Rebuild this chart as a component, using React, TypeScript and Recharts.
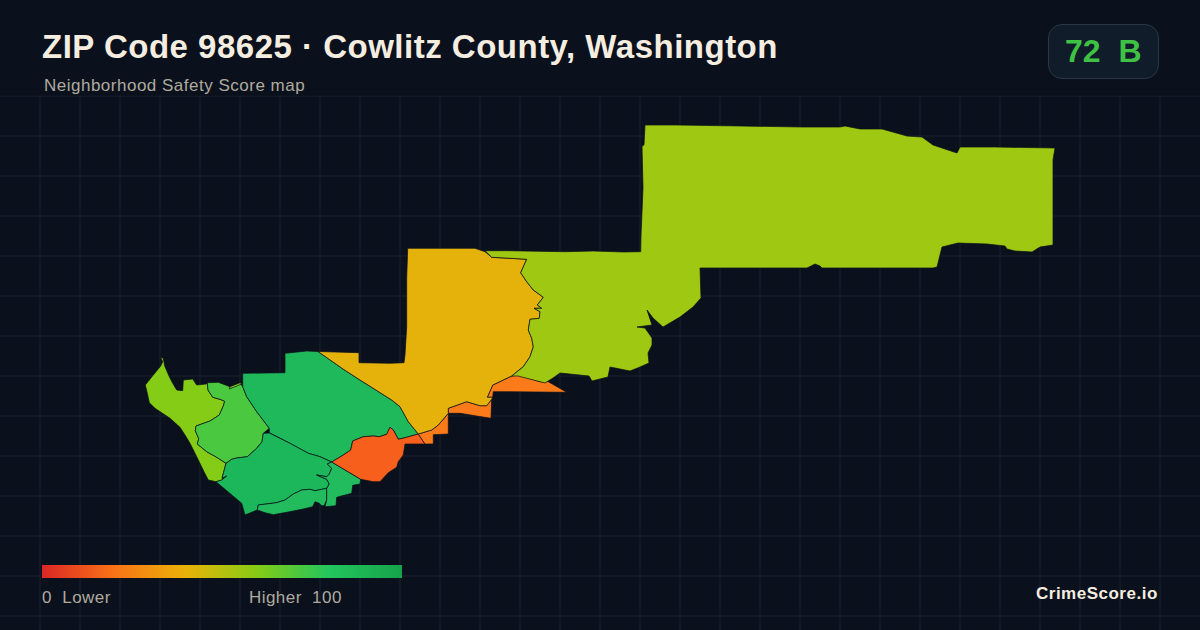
import React from "react";
import { ScatterChart, Scatter, XAxis, YAxis, CartesianGrid, ReferenceArea } from "recharts";

type P = [number, number];

const gridXValues = [0,40,80,120,160,200,240,280,320,360,400,440,480,520,560,600,640,680,720,760,800,840,880,920,960,1000,1040,1080,1120,1160];
const gridYValues = [96,136,176,216,256,296,336,376,416,456,496,536,576,616];

const limeWest: P[] = [[160.7,357.3],[163.3,358.3],[164.7,366],[169.3,376.7],[172.7,383.3],[176.7,390],[182.7,390.7],[183.3,380],[192.7,379],[196.7,385],[206,384],[207.3,383.3],[208,390],[212.7,397.3],[220,399.3],[224.7,401.3],[223.3,406],[219.3,415],[210,421],[196,426],[195.3,430.7],[198.7,438.7],[197.3,444],[206.7,451.7],[216.7,457.3],[226,463.3],[222,478.3],[226.7,476],[221.7,480],[216,481.7],[208.3,480],[204,471.7],[196.7,456.7],[190,443.3],[185,435],[180,427.3],[170,418.3],[155,408.3],[149.3,402.7],[147.3,393.3],[145.3,385],[153.3,375],[160.7,366],[162.7,361.7]];
const limeSliver: P[] = [[229.3,389],[241.7,384],[240,382.7],[230,386.7]];
const lightGreen: P[] = [[207.3,382.7],[218.3,382.3],[230,386.7],[240,383.3],[242.7,386.7],[246.7,396.7],[256.7,411.7],[269.3,428.3],[263.3,433.3],[262,441.7],[256.7,448.3],[247.3,456.7],[236.7,458],[231.7,459.3],[226,463.3],[216.7,457.3],[206.7,451.7],[197.3,444],[198.7,438.7],[195.3,430.7],[196,426],[210,421],[219.3,415],[223.3,406],[224.7,401.3],[220,399.3],[212.7,397.3],[208,390]];
const greenNorth: P[] = [[242.7,373.3],[285,372.7],[285,353.3],[306.7,351],[318,351.5],[343,369],[360,380],[391.7,400],[400,406.7],[408.3,421.7],[418.3,434],[406.7,437.3],[398.3,439.3],[393.3,430],[390,427.3],[386.7,434.3],[379.3,436.7],[373.3,436],[363.3,436.7],[352.7,441],[350.7,450],[343.3,455],[331.7,462],[320,456.7],[308.3,453.3],[290,443.3],[269.3,432.7],[269.3,428.3],[256.7,411.7],[246.7,396.7],[242.7,386.7]];
const greenSouth: P[] = [[263.3,433.3],[269.3,433],[290,443.3],[308.3,453.3],[320,456.7],[331.7,462],[327.3,464],[331.7,468.3],[329.3,474],[326.7,476.7],[316.7,475],[326.7,479.3],[329.3,484],[326.7,488.3],[315,490.7],[310,489.3],[301.7,490],[293.3,494],[285,500],[276.7,502.7],[258.3,505],[257.3,510],[245,515],[241.7,503.3],[216,481.7],[221.7,480],[226.7,476],[222,478.3],[226,463.3],[231.7,459.3],[236.7,458],[247.3,456.7],[256.7,448.3],[262,441.7]];
const greenTip: P[] = [[258.3,505],[276.7,502.7],[285,500],[293.3,494],[301.7,490],[310,489.3],[315,490.7],[326.7,488.3],[326.7,500],[324,505.7],[321.7,505.7],[319.3,503.3],[315,501.7],[312.7,506.7],[303.3,509],[286.7,512.3],[273.3,514.7],[265,512.7],[257.3,510]];
const greenEast: P[] = [[331.7,462],[360.7,479.3],[360,484],[352.7,485.3],[351.7,493.3],[336.7,497.3],[336,505.7],[325,506.7],[326.7,500],[326.7,488.3],[329.3,484],[326.7,479.3],[316.7,475],[326.7,476.7],[329.3,474],[331.7,468.3],[327.3,464]];
const redOrange: P[] = [[331.7,462],[343.3,455],[350.7,450],[352.7,441],[363.3,436.7],[373.3,436],[379.3,436.7],[386.7,434.3],[390,427.3],[393.3,430],[398.3,439.3],[406.7,437.3],[418.3,434],[425,444],[405,444],[403.3,455],[398.3,461.7],[396.7,467.3],[388.3,472.7],[380,481.7],[373.3,481.7],[360.7,479.3]];
const orangeStep: P[] = [[418.3,434],[431.7,430],[438.3,425],[448.3,413.3],[448.3,434],[433.3,434.7],[433.3,444],[425,444]];
const orangeMid: P[] = [[448.3,413.3],[448.3,408.3],[466.7,401.7],[480,405.7],[486.7,405.7],[491.7,399.3],[491,418.3],[476.7,416],[460,413.3]];
const orangeEast: P[] = [[487.3,397.3],[492.7,385],[511.7,376],[518.3,375],[540,381.7],[548.3,381.7],[566.7,392.3],[508.3,391.7],[493.3,391.7],[492.7,397.3]];
const amber: P[] = [[407.7,248.3],[475,248.3],[485,251.7],[491.7,257.3],[510,258.3],[526.7,259.3],[520.7,272.7],[526.7,281.7],[533.3,290],[543.3,297.3],[537.3,305],[541.7,308.3],[534,308.3],[540,311.7],[539.3,318.3],[530,319.3],[528.3,330],[531.7,338.3],[533.3,346.7],[530,356.7],[523.3,366.7],[511.7,376],[492.7,385],[487.3,397.3],[492.7,397.3],[491.7,399.3],[486.7,405.7],[480,405.7],[466.7,401.7],[448.3,408.3],[448.3,413.3],[438.3,425],[431.7,430],[418.3,434],[408.3,421.7],[400,406.7],[391.7,400],[360,380],[343,369],[318,351.5],[359,352.7],[359,362.7],[390,363.3],[404,362.7],[405,355],[406.7,326.7],[406.7,278.3]];
const yellowGreen: P[] = [[485,250.7],[506.7,250.7],[565,251.7],[593.3,251],[623.3,252],[640.7,251.7],[641,236],[643,188],[642,146],[644,145],[645,125],[677,125],[740,126],[803,127],[840,127],[845,126],[850,127],[860,129],[882,129],[907,136],[922,137],[933,145],[957,153],[960,147],[995,147],[1055,148],[1053,160],[1053,245],[1040,247],[1032,252],[1015,251],[1007,249],[1005,246],[987,244],[958,243],[942,247],[940,255],[937,267],[933,268],[822,268],[820,266],[815,264],[807,268],[700,268],[701,298],[693,307],[680,317],[663,327],[653,318],[647,310],[652,325],[637,327],[645,328],[652,338],[652,345],[648,353],[649,363],[640,367],[630,371],[610,367],[608,377],[592,381],[589,376],[560,373],[553,378],[545,383],[518,376],[511.7,376],[523.3,366.7],[530,356.7],[533.3,346.7],[531.7,338.3],[528.3,330],[530,319.3],[539.3,318.3],[540,311.7],[534,308.3],[541.7,308.3],[537.3,305],[543.3,297.3],[533.3,290],[526.7,281.7],[520.7,272.7],[526.7,259.3],[510,258.3],[491.7,257.3]];

const regions: { name: string; pts: P[]; fill: string }[] = [
  { name: "lime-west", pts: limeWest, fill: "#84cc16" },
  { name: "light-green", pts: lightGreen, fill: "#4ac840" },
  { name: "lime-sliver", pts: limeSliver, fill: "#84cc16" },
  { name: "green-north", pts: greenNorth, fill: "#1fb85a" },
  { name: "green-south", pts: greenSouth, fill: "#1cb75a" },
  { name: "green-tip", pts: greenTip, fill: "#22bb5e" },
  { name: "green-east", pts: greenEast, fill: "#22bb5e" },
  { name: "red-orange", pts: redOrange, fill: "#f6601c" },
  { name: "orange-step", pts: orangeStep, fill: "#fb7b1a" },
  { name: "orange-mid", pts: orangeMid, fill: "#fb7b1a" },
  { name: "orange-east", pts: orangeEast, fill: "#fb7b1a" },
  { name: "amber", pts: amber, fill: "#e5b20c" },
  { name: "yellow-green", pts: yellowGreen, fill: "#9ec812" },
];

const legendStops = [
  { at: "0%", color: "#dc2626" },
  { at: "20%", color: "#f97316" },
  { at: "40%", color: "#eab308" },
  { at: "60%", color: "#84cc16" },
  { at: "80%", color: "#22c55e" },
  { at: "100%", color: "#16a34a" },
];

const title = "ZIP Code 98625 · Cowlitz County, Washington";
const subtitle = "Neighborhood Safety Score map";
const badgeText = "72  B";
const legendLow = "0  Lower";
const legendHigh = "Higher  100";
const brand = "CrimeScore.io";

const BG = "#0a111c";
const FONT = '"Liberation Sans", Arial, sans-serif';

const abs = (s: React.CSSProperties): React.CSSProperties => ({
  position: "absolute",
  whiteSpace: "pre",
  fontFamily: FONT,
  lineHeight: 1,
  ...s,
});

const noPoint = () => null;

export default function App() {
  return (
    <div style={{ position: "absolute", left: 0, top: 0, width: 1200, height: 630, background: BG, overflow: "hidden" }}>
      <ScatterChart width={1200} height={630} margin={{ top: 0, right: 0, bottom: 0, left: 0 }}>
        <defs>
          <linearGradient id="scoreRamp" x1="0" y1="0" x2="1" y2="0">
            {legendStops.map((s) => (
              <stop key={s.at} offset={s.at} stopColor={s.color} />
            ))}
          </linearGradient>
        </defs>
        <XAxis type="number" dataKey="x" domain={[0, 1200]} hide />
        <YAxis type="number" dataKey="y" domain={[0, 630]} reversed hide />
        <CartesianGrid stroke="#16232f" strokeWidth={1} verticalValues={gridXValues} horizontalValues={gridYValues} />
        <ReferenceArea x1={0} x2={1200} y1={0} y2={95.5} fill={BG} fillOpacity={1} stroke="none" />
        <ReferenceArea x1={42} x2={402} y1={565} y2={578} fill="url(#scoreRamp)" fillOpacity={1} stroke="none" />
        {regions.map((r) => (
          <Scatter
            key={r.name}
            name={r.name}
            data={[...r.pts, r.pts[0]].map(([x, y]) => ({ x, y }))}
            fill={r.fill}
            line={{ fill: r.fill, stroke: "#0a0f1a", strokeWidth: 0.7 }}
            shape={noPoint}
            isAnimationActive={false}
          />
        ))}
      </ScatterChart>
      <div style={abs({ left: 42, top: 30, fontSize: 33, fontWeight: 700, letterSpacing: 0.5, color: "#f5ede0" })}>{title}</div>
      <div style={abs({ left: 44, top: 77, fontSize: 17, letterSpacing: 0.5, color: "#b0aa9f" })}>{subtitle}</div>
      <div style={{ position: "absolute", left: 1048, top: 24, width: 109, height: 53, background: "#111c2a", border: "1px solid #2a3644", borderRadius: 14 }} />
      <div style={abs({ left: 1065, top: 35, fontSize: 32, fontWeight: 700, color: "#3fc144" })}>{badgeText}</div>
      <div style={abs({ left: 42, top: 589, fontSize: 17, letterSpacing: 0.45, color: "#b0aa9f" })}>{legendLow}</div>
      <div style={abs({ left: 249, top: 589, fontSize: 17, letterSpacing: 0.45, color: "#b0aa9f" })}>{legendHigh}</div>
      <div style={abs({ left: 1036, top: 585, fontSize: 17, fontWeight: 700, letterSpacing: 0.5, color: "#f5ede0" })}>{brand}</div>
    </div>
  );
}
